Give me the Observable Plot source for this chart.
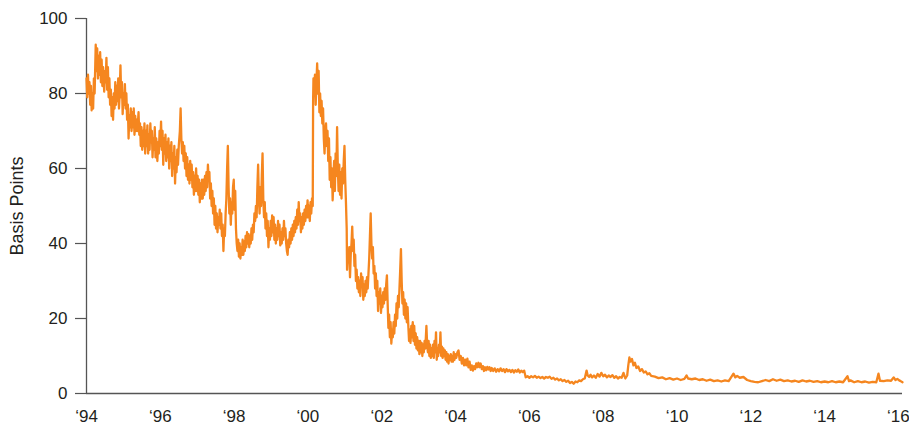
<!DOCTYPE html>
<html>
<head>
<meta charset="utf-8">
<script src="https://cdn.jsdelivr.net/npm/d3@7"></script>
<script src="https://cdn.jsdelivr.net/npm/@observablehq/plot@0.6"></script>
<style>
  html, body { margin: 0; padding: 0; background: #fff; }
  #chart { width: 909px; height: 428px; }
</style>
</head>
<body>
<div id="chart"></div>
<script>
// Basis points: [decimal year, value]
const series1994to1997 = [
[1994.00,84],[1994.02,79],[1994.04,85],[1994.06,80],[1994.08,83],[1994.10,77],[1994.12,82],[1994.14,75.5],[1994.16,80],[1994.18,76],
[1994.20,84],[1994.22,80],[1994.25,93],[1994.27,86],[1994.29,92],[1994.31,84],[1994.33,90],[1994.35,85],[1994.37,91],[1994.39,83],
[1994.41,89],[1994.43,82],[1994.45,87],[1994.48,80.5],[1994.50,86],[1994.52,83],[1994.54,89.5],[1994.56,81],[1994.58,87],[1994.60,79],
[1994.62,84],[1994.64,77],[1994.66,81],[1994.68,74],[1994.70,79],[1994.72,73],[1994.74,80],[1994.76,76],[1994.78,83],[1994.80,77],
[1994.82,82],[1994.84,78],[1994.86,84],[1994.88,76],[1994.90,80],[1994.92,87.5],[1994.94,79],[1994.96,83],[1994.98,74.5],[1995.00,80],
[1995.02,77],[1995.04,82.5],[1995.06,76],[1995.08,80],[1995.10,73],[1995.12,77],[1995.14,68],[1995.16,74],[1995.18,71],[1995.20,76],
[1995.22,70],[1995.24,75],[1995.26,71],[1995.28,76],[1995.30,69],[1995.32,74],[1995.34,70],[1995.36,73],[1995.38,70],[1995.41,75],
[1995.43,69],[1995.45,72],[1995.47,66],[1995.49,71],[1995.51,65],[1995.53,70],[1995.55,66],[1995.57,72],[1995.59,64],[1995.61,70],
[1995.63,66],[1995.65,71.5],[1995.67,64],[1995.69,69],[1995.71,65],[1995.73,72],[1995.75,67],[1995.77,70],[1995.79,63],[1995.81,68],
[1995.83,65],[1995.85,71],[1995.87,63],[1995.89,68],[1995.92,62],[1995.94,67],[1995.96,64],[1995.98,70],[1996.00,66],[1996.02,72.5],
[1996.04,65],[1996.06,70],[1996.08,61],[1996.10,68],[1996.12,64],[1996.14,69],[1996.16,62],[1996.18,67],[1996.20,63],[1996.22,68],
[1996.24,60],[1996.26,66],[1996.28,62],[1996.30,67],[1996.32,58],[1996.34,64],[1996.36,60],[1996.38,66],[1996.40,56],[1996.42,63],
[1996.44,59],[1996.46,65],[1996.48,61],[1996.50,66],[1996.53,70],[1996.55,76],[1996.57,68],[1996.59,64],[1996.61,67],[1996.63,62],
[1996.65,66],[1996.67,60],[1996.69,64],[1996.71,58],[1996.73,63],[1996.75,57],[1996.77,61],[1996.79,56],[1996.81,62],[1996.83,57],
[1996.85,61],[1996.87,55],[1996.89,59],[1996.91,53],[1996.93,58],[1996.95,54],[1996.97,60],[1996.99,54]
];
const series1997to2000 = [
[1997.01,58],[1997.03,53],[1997.05,57],[1997.07,51],[1997.09,56],[1997.11,52],[1997.13,57],[1997.15,52],[1997.17,57],[1997.19,53],
[1997.21,58],[1997.23,54],[1997.25,59],[1997.27,55],[1997.29,61],[1997.31,57],[1997.33,59],[1997.35,52],[1997.37,56],[1997.39,50],
[1997.41,54],[1997.43,48],[1997.45,52],[1997.47,45],[1997.49,50],[1997.51,44],[1997.53,48],[1997.55,43],[1997.57,47],[1997.59,45],
[1997.61,49],[1997.63,44],[1997.65,48],[1997.67,42],[1997.69,45],[1997.71,38],[1997.73,44],[1997.75,42],[1997.77,48],[1997.79,52],
[1997.81,60],[1997.83,66],[1997.85,55],[1997.87,48],[1997.89,52],[1997.91,45],[1997.93,51],[1997.95,48],[1997.97,55],[1997.99,57],
[1998.01,49],[1998.03,54],[1998.05,44],[1998.07,40],[1998.09,38],[1998.11,41],[1998.13,36.5],[1998.15,40],[1998.17,36],[1998.19,39],
[1998.21,37],[1998.23,41],[1998.25,37],[1998.27,40.5],[1998.29,38],[1998.31,42],[1998.33,39],[1998.35,43],[1998.37,40],[1998.39,42.5],
[1998.41,39],[1998.43,42],[1998.45,40],[1998.47,44],[1998.49,41],[1998.51,45],[1998.53,43],[1998.55,48],[1998.57,46],[1998.59,50],
[1998.61,47],[1998.63,55],[1998.65,61],[1998.67,52],[1998.69,48],[1998.71,55],[1998.73,50],[1998.75,58],[1998.77,64],[1998.79,52],
[1998.81,47],[1998.83,51],[1998.85,44],[1998.87,48],[1998.89,42],[1998.91,46],[1998.93,39],[1998.95,44],[1998.97,41],[1998.99,46],
[1999.01,42],[1999.03,47.5],[1999.05,43],[1999.07,47],[1999.09,41],[1999.11,45],[1999.13,40],[1999.15,44],[1999.17,41],[1999.19,46],
[1999.21,42],[1999.23,45],[1999.25,39.5],[1999.27,43],[1999.29,40],[1999.31,44],[1999.33,41],[1999.35,46],[1999.37,42],[1999.39,44],
[1999.41,40],[1999.43,38],[1999.45,37],[1999.47,41],[1999.49,39],[1999.51,43],[1999.53,40],[1999.55,44],[1999.57,41],[1999.59,45],
[1999.61,42],[1999.63,46],[1999.65,43],[1999.67,47],[1999.69,44],[1999.71,49],[1999.73,45],[1999.75,51],[1999.77,46],[1999.79,48],
[1999.81,43],[1999.83,47],[1999.85,44],[1999.87,48],[1999.89,45],[1999.91,49],[1999.93,46],[1999.95,50],[1999.97,47],[1999.99,51.5]
];
const series2000to2003 = [
[2000.01,47],[2000.03,50],[2000.05,46],[2000.07,51],[2000.09,48],[2000.11,52],[2000.13,50],[2000.14,78],[2000.15,84],[2000.17,80],
[2000.19,85],[2000.21,77],[2000.23,83],[2000.25,88],[2000.27,80],[2000.29,86],[2000.31,75],[2000.33,80],[2000.35,74],[2000.37,78],
[2000.39,72],[2000.41,76],[2000.43,68],[2000.45,64],[2000.47,70],[2000.49,72],[2000.51,66],[2000.53,70],[2000.55,62],[2000.57,68],
[2000.59,57],[2000.61,63],[2000.63,55],[2000.65,60],[2000.67,51.5],[2000.69,58],[2000.71,62],[2000.73,54],[2000.75,64],[2000.77,58],
[2000.79,71],[2000.81,60],[2000.83,54],[2000.85,61],[2000.87,53],[2000.89,59],[2000.91,52],[2000.93,60],[2000.95,56],[2000.97,62],
[2000.99,66],[2001.01,57],[2001.03,51],[2001.05,44],[2001.06,33],[2001.08,38],[2001.10,35],[2001.12,39],[2001.14,31],[2001.16,37],
[2001.18,40],[2001.20,44.5],[2001.22,38],[2001.24,41],[2001.26,34],[2001.28,37],[2001.30,30],[2001.32,33],[2001.34,28],[2001.36,31],
[2001.38,27],[2001.40,30],[2001.42,26],[2001.44,32],[2001.46,29],[2001.48,31],[2001.50,25],[2001.52,29],[2001.54,26],[2001.56,30],
[2001.58,27],[2001.60,31],[2001.62,28],[2001.64,32],[2001.66,36],[2001.68,42],[2001.70,48],[2001.72,40],[2001.74,36],[2001.76,39],
[2001.78,32],[2001.80,34],[2001.82,28],[2001.84,32],[2001.86,26],[2001.88,30],[2001.90,22],[2001.92,27],[2001.94,24],[2001.96,28],
[2001.98,21.5],[2002.00,26],[2002.02,23],[2002.04,27],[2002.06,24],[2002.08,28],[2002.10,25],[2002.12,29],[2002.14,31.5],[2002.16,24],
[2002.18,17.5],[2002.20,21],[2002.22,15],[2002.24,19],[2002.26,13.3],[2002.28,17],[2002.30,15],[2002.32,19],[2002.34,16],[2002.36,21],
[2002.38,18],[2002.40,24],[2002.42,20],[2002.44,26],[2002.46,23],[2002.48,28],[2002.50,33],[2002.52,38.5],[2002.54,30],[2002.56,24],
[2002.58,27],[2002.60,21],[2002.62,25],[2002.64,20],[2002.66,24],[2002.68,19],[2002.70,23],[2002.72,18],[2002.74,14],[2002.76,17],
[2002.78,13.5],[2002.80,18],[2002.82,15],[2002.84,19],[2002.86,14],[2002.88,18],[2002.90,13],[2002.92,16],[2002.94,12],[2002.96,15],
[2002.98,11.5]
];
const series2003to2008 = [
[2003.00,14],[2003.02,10.5],[2003.04,14],[2003.06,11],[2003.08,13.5],[2003.10,10],[2003.12,13],[2003.14,11],[2003.16,14],[2003.18,12],
[2003.21,18],[2003.23,13],[2003.25,11],[2003.27,14],[2003.29,10],[2003.31,13],[2003.33,9.5],[2003.35,12],[2003.37,10],[2003.39,13],
[2003.41,9.5],[2003.43,14],[2003.45,11],[2003.47,16.3],[2003.49,9],[2003.51,12],[2003.53,10],[2003.55,13],[2003.57,11],[2003.59,16.3],
[2003.61,10],[2003.63,12.5],[2003.65,9.5],[2003.67,12],[2003.69,10],[2003.71,11.5],[2003.73,9],[2003.75,11],[2003.77,8.5],[2003.79,10.5],
[2003.81,8],[2003.83,10],[2003.85,9],[2003.87,10.5],[2003.89,8.5],[2003.91,10],[2003.93,8.5],[2003.95,11],[2003.97,9],[2003.99,10.5],
[2004.02,9.5],[2004.05,11],[2004.08,11.5],[2004.11,9],[2004.14,10],[2004.17,8],[2004.20,9.5],[2004.23,7.5],[2004.26,9],[2004.29,7.5],
[2004.32,9.3],[2004.35,7],[2004.38,8.5],[2004.41,6.3],[2004.44,7.5],[2004.47,6.1],[2004.50,7.3],[2004.53,6.5],[2004.56,8],[2004.59,7],
[2004.62,8.2],[2004.65,7],[2004.68,8],[2004.71,6.5],[2004.74,7.3],[2004.77,6],[2004.80,7],[2004.83,6.2],[2004.86,7.1],[2004.89,6.4],
[2004.92,7],[2004.95,6],[2004.98,6.8],[2005.02,6],[2005.06,6.7],[2005.10,5.8],[2005.14,6.5],[2005.18,5.9],[2005.22,6.7],[2005.26,6],
[2005.30,6.5],[2005.34,5.7],[2005.38,6.5],[2005.42,5.9],[2005.46,6.3],[2005.50,5.7],[2005.54,6.3],[2005.58,5.6],[2005.62,6.2],[2005.66,5.8],
[2005.70,6.4],[2005.74,5.6],[2005.78,6.1],[2005.82,5.7],[2005.86,6.1],[2005.90,4.3],[2005.95,4.6],[2006.00,4.2],[2006.05,4.6],[2006.10,4.3],
[2006.15,4.7],[2006.20,4.2],[2006.25,4.5],[2006.30,4.1],[2006.35,4.4],[2006.40,4.0],[2006.45,4.4],[2006.50,4.2],[2006.55,4.5],[2006.60,3.9],
[2006.65,4.2],[2006.70,3.7],[2006.75,4.0],[2006.80,3.5],[2006.85,3.8],[2006.90,3.3],[2006.95,3.6],[2007.00,3.1],[2007.05,3.4],[2007.10,2.8],
[2007.15,3.1],[2007.20,2.6],[2007.25,3.2],[2007.30,3.0],[2007.35,3.5],[2007.40,3.3],[2007.45,3.8],[2007.50,4.0],[2007.55,6.1],[2007.58,4.8],
[2007.62,4.4],[2007.66,5.0],[2007.70,4.3],[2007.75,4.8],[2007.80,4.2],[2007.85,5.2],[2007.90,4.5],[2007.95,5.5]
];
const series2008to2016 = [
[2008.00,4.6],[2008.05,5.0],[2008.10,4.3],[2008.15,4.8],[2008.20,4.4],[2008.25,4.9],[2008.30,4.2],[2008.35,4.6],[2008.40,4.0],[2008.45,4.4],
[2008.50,4.2],[2008.55,5.5],[2008.60,4.0],[2008.65,4.8],[2008.68,7.5],[2008.71,9.6],[2008.74,8.5],[2008.78,9.2],[2008.82,7.5],[2008.86,8.2],
[2008.90,6.8],[2008.95,7.2],[2009.00,6.0],[2009.05,6.5],[2009.10,5.6],[2009.15,5.9],[2009.20,5.1],[2009.25,5.4],[2009.30,4.7],[2009.40,4.5],
[2009.50,4.1],[2009.60,4.3],[2009.70,3.8],[2009.80,4.1],[2009.90,3.7],[2010.00,4.0],[2010.10,3.6],[2010.20,3.9],[2010.26,4.8],[2010.30,4.0],
[2010.40,3.8],[2010.50,4.0],[2010.60,3.6],[2010.70,3.8],[2010.80,3.4],[2010.90,3.7],[2011.00,3.3],[2011.10,3.5],[2011.20,3.2],[2011.30,3.5],
[2011.40,3.3],[2011.53,5.3],[2011.58,4.3],[2011.63,4.7],[2011.70,4.2],[2011.80,4.4],[2011.90,3.6],[2012.00,3.3],[2012.10,3.1],[2012.20,3.0],
[2012.30,3.3],[2012.40,3.6],[2012.50,3.3],[2012.60,3.8],[2012.70,3.4],[2012.80,3.7],[2012.90,3.3],[2013.00,3.5],[2013.10,3.2],[2013.20,3.4],
[2013.30,3.1],[2013.40,3.5],[2013.50,3.2],[2013.60,3.4],[2013.70,3.1],[2013.80,3.3],[2013.90,3.0],[2014.00,3.2],[2014.10,3.0],[2014.20,3.3],
[2014.30,3.0],[2014.40,3.2],[2014.50,3.0],[2014.62,4.6],[2014.66,3.3],[2014.70,3.5],[2014.80,3.0],[2014.90,3.3],[2015.00,3.0],[2015.10,3.2],
[2015.20,2.9],[2015.30,3.1],[2015.40,3.0],[2015.46,5.3],[2015.50,3.4],[2015.60,3.3],[2015.70,3.5],[2015.80,3.4],[2015.87,4.3],[2015.92,3.6],
[2015.97,3.9],[2016.02,3.5],[2016.06,3.3],[2016.11,3.0]
];

const xTicks = [1994, 1996, 1998, 2000, 2002, 2004, 2006, 2008, 2010, 2012, 2014, 2016];
const yTicks = [0, 20, 40, 60, 80, 100];
const yLabel = "Basis Points";

const data = [...series1994to1997, ...series1997to2000, ...series2000to2003, ...series2003to2008, ...series2008to2016]
  .map(([year, bp]) => ({year, bp}));

const axisColor = "#555555";
const textColor = "#231f20";

const chart = Plot.plot({
  width: 909,
  height: 428,
  marginLeft: 86,
  marginRight: 7,
  marginTop: 18,
  marginBottom: 35,
  style: {fontFamily: "'Liberation Sans', Arial, Helvetica, sans-serif", fontSize: "17px", color: textColor, background: "#fff"},
  x: {domain: [1994, 2016.11], label: null},
  y: {domain: [0, 100], label: null},
  marks: [
    Plot.axisY(yTicks, {tickSize: 11, tickPadding: 8, stroke: axisColor, strokeWidth: 1.2, fontSize: 17, label: null}),
    Plot.axisX(xTicks, {tickSize: 0, tickPadding: 16, fontSize: 17, label: null,
      tickFormat: d => "\u2018" + String(d).slice(2)}),
    Plot.ruleX([1994], {stroke: axisColor, strokeWidth: 1.3}),
    Plot.ruleY([0], {stroke: axisColor, strokeWidth: 1.3}),
    Plot.line(data, {x: "year", y: "bp", stroke: "#F5861F", strokeWidth: 2.3, strokeLinejoin: "round"}),
    Plot.text([yLabel], {text: d => d, frameAnchor: "left", textAnchor: "middle", dx: -69, rotate: -90, fontSize: 18, fill: textColor})
  ]
});

document.getElementById("chart").appendChild(chart);
</script>
</body>
</html>
